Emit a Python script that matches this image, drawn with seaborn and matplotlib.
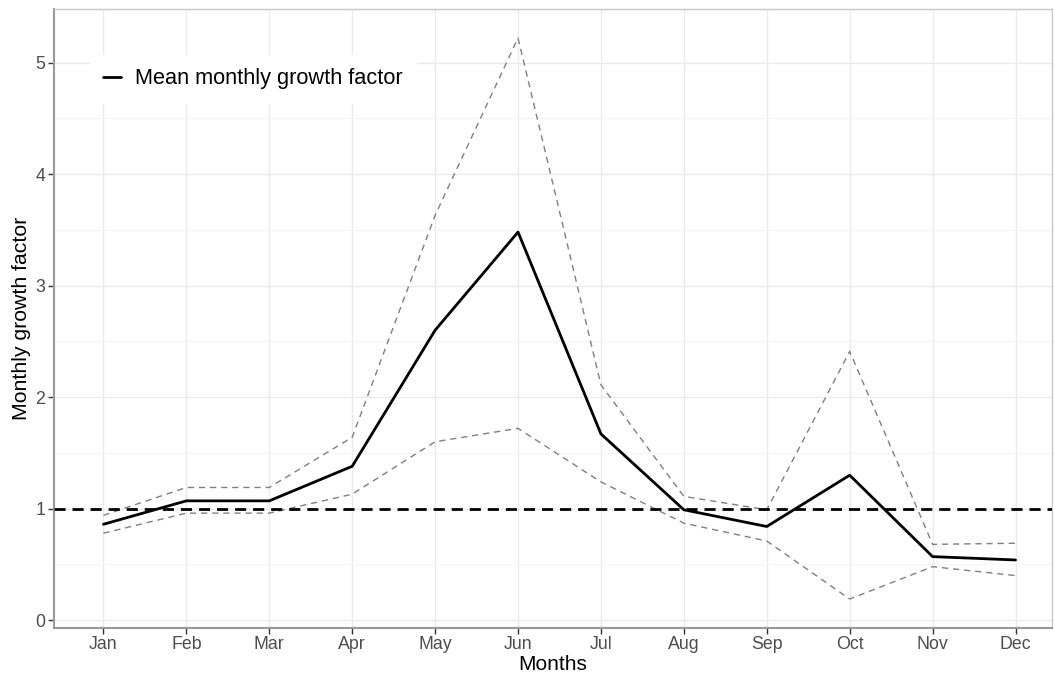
import matplotlib
matplotlib.use("Agg")
import matplotlib.pyplot as plt
import seaborn as sns
import pandas as pd
import numpy as np
from matplotlib.ticker import MultipleLocator
from matplotlib.lines import Line2D

months = ["Jan", "Feb", "Mar", "Apr", "May", "Jun", "Jul", "Aug", "Sep", "Oct", "Nov", "Dec"]
mean_growth = [0.86, 1.07, 1.07, 1.38, 2.60, 3.48, 1.67, 0.99, 0.84, 1.30, 0.57, 0.54]
upper_growth = [0.94, 1.19, 1.19, 1.64, 3.63, 5.22, 2.11, 1.11, 0.99, 2.41, 0.68, 0.69]
lower_growth = [0.78, 0.96, 0.96, 1.13, 1.60, 1.72, 1.24, 0.87, 0.71, 0.19, 0.48, 0.40]
reference_level = 1.0

df = pd.DataFrame({
    "pos": np.arange(len(months)),
    "month": months,
    "mean": mean_growth,
    "upper": upper_growth,
    "lower": lower_growth,
})

sns.set_theme(style="whitegrid")
plt.rcParams["font.family"] = ["Liberation Sans", "DejaVu Sans"]

fig = plt.figure(figsize=(10.54, 6.73), dpi=100)
ax = fig.add_axes([53.7 / 1054, 1 - 628 / 673, (1052 - 53.7) / 1054, (628 - 9) / 673])

sns.lineplot(data=df, x="pos", y="upper", ax=ax, color="#808080", lw=1.0,
             linestyle=(0, (4.5, 3.5)), legend=False)
sns.lineplot(data=df, x="pos", y="lower", ax=ax, color="#808080", lw=1.0,
             linestyle=(0, (4.5, 3.5)), legend=False)
ax.axhline(reference_level, color="black", lw=2.0, linestyle=(0, (4, 2.5)), zorder=3)
sns.lineplot(data=df, x="pos", y="mean", ax=ax, color="black", lw=2.0, legend=False, zorder=4)

ax.set_xlim(-0.6, 11.44)
ax.set_ylim(-0.07, 5.48)
ax.set_xticks(df["pos"])
ax.set_xticklabels(months)
ax.yaxis.set_major_locator(MultipleLocator(1))
ax.yaxis.set_minor_locator(MultipleLocator(0.5))
ax.xaxis.set_minor_locator(plt.NullLocator())

ax.grid(which="major", color="#ebebeb", lw=1.0)
ax.grid(which="minor", axis="y", color="#f5f5f5", lw=0.8)
ax.set_axisbelow(True)
ax.set_facecolor("white")

for side in ["top", "right"]:
    ax.spines[side].set_color("#c8c8c8")
    ax.spines[side].set_linewidth(1.0)
for side in ["left", "bottom"]:
    ax.spines[side].set_color("#999999")
    ax.spines[side].set_linewidth(1.5)

ax.tick_params(axis="both", which="major", length=4, width=1, color="#333333",
               labelsize=12.8, labelcolor="#4d4d4d", pad=2, bottom=True, left=True)
ax.tick_params(axis="both", which="minor", length=0)

ax.set_xlabel("Months", fontsize=15, color="black", labelpad=1)
ax.set_ylabel("Monthly growth factor", fontsize=15.3, color="black", labelpad=3)

handle = Line2D([], [], color="black", lw=2.0)
leg = ax.legend([handle], ["Mean monthly growth factor"], loc="center left",
                bbox_to_anchor=(0.036, 0.887), frameon=True, fontsize=15.7,
                handlelength=0.84, handletextpad=0.65, borderpad=0.6,
                borderaxespad=0, fancybox=False, labelcolor="black")
leg.get_frame().set_facecolor("white")
leg.get_frame().set_edgecolor("white")
leg.get_frame().set_alpha(1.0)

fig.savefig("out.png", dpi=100)
